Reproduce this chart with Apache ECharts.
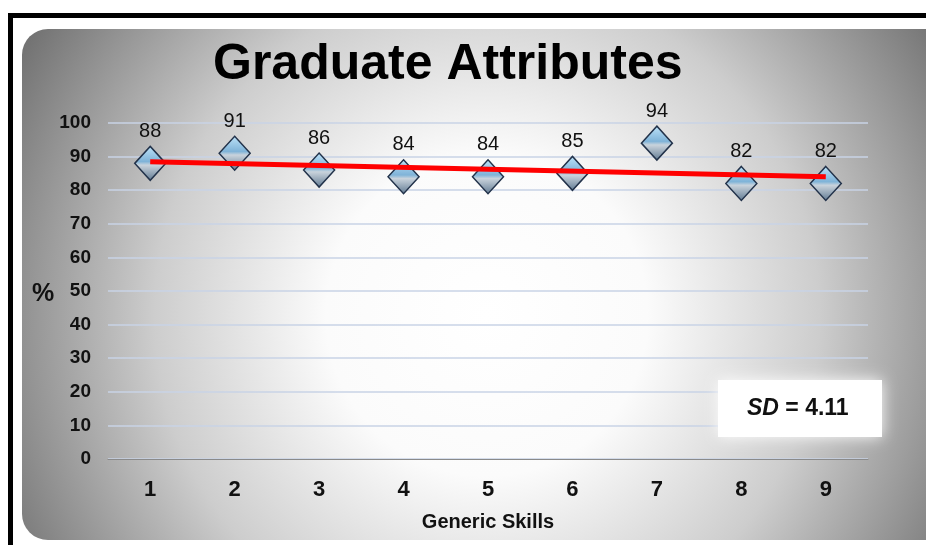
<!DOCTYPE html>
<html><head><meta charset="utf-8">
<script src="https://cdn.jsdelivr.net/npm/echarts@6/dist/echarts.min.js"></script>
<style>html,body{margin:0;padding:0;background:#fff}#c{width:926px;height:545px}</style>
</head><body><div id="c"></div>
<script>
var categories = ['1','2','3','4','5','6','7','8','9'];
var values = [88, 91, 86, 84, 84, 85, 94, 82, 82];
var trendCats = ['1','9'];
var trendValues = [88.5, 84.0];
var yTicks = [0,10,20,30,40,50,60,70,80,90,100];
var sdText = '4.11';

var FONT = '"Liberation Sans", Arial, sans-serif';
var chart = echarts.init(document.getElementById('c'), null, {renderer:'canvas'});
chart.setOption({
  backgroundColor: '#ffffff',
  animation: false,
  graphic: [
    {type:'rect', z:-10, shape:{x:22, y:29, width:930, height:511, r:26},
     style:{fill:{type:'radial', x:0.5, y:0.56, r:1.05, colorStops:[
       {offset:0, color:'#ffffff'},{offset:0.3, color:'#fbfbfb'},
       {offset:0.62, color:'#cdcdcd'},{offset:1, color:'#727272'}]}}},
    {type:'rect', z:-5, shape:{x:10.5, y:15.5, width:940, height:560},
     style:{fill:'none', stroke:'#000', lineWidth:5}},
    {type:'rect', z:5, shape:{x:718, y:380, width:164, height:57},
     style:{fill:'#ffffff', shadowBlur:14, shadowColor:'rgba(255,255,255,0.95)'}},
    {type:'text', z:6, left:747, top:397,
     style:{text:'{i|SD} = ' + sdText, font:'bold 23px ' + FONT, fill:'#111',
       rich:{i:{fontStyle:'italic', fontWeight:'bold', fontSize:23, fontFamily:FONT, fill:'#111'}}}},
    {type:'text', z:6, left:32, top:282,
     style:{text:'%', font:'bold 25px ' + FONT, fill:'#111'}}
  ],
  title: {text:'Graduate Attributes', left:208, top:35,
    textStyle:{fontFamily:FONT, fontSize:50, fontWeight:'bold', color:'#000'}},
  grid: {left:108, right:58, top:123, bottom:86},
  xAxis: {type:'category', data:categories, boundaryGap:true,
    name:'Generic Skills', nameLocation:'middle', nameGap:53,
    nameTextStyle:{fontFamily:FONT, fontSize:20, fontWeight:'bold', color:'#111'},
    axisLine:{lineStyle:{color:'#8a8a8a', width:1}}, axisTick:{show:false},
    axisLabel:{fontFamily:FONT, fontSize:22, fontWeight:'bold', color:'#111', margin:20}},
  yAxis: {type:'value', min:yTicks[0], max:yTicks[yTicks.length-1], interval:10,
    axisLine:{show:false}, axisTick:{show:false},
    splitLine:{lineStyle:{color:'#c9d3e6', width:1.5}},
    axisLabel:{fontFamily:FONT, fontSize:19, fontWeight:'bold', color:'#111', margin:17}},
  series: [
    {type:'line', data:values, z:3, lineStyle:{width:0}, symbol:'diamond', symbolSize:[31,34],
     itemStyle:{color:{type:'linear', x:0, y:0, x2:0, y2:1, colorStops:[
       {offset:0, color:'#bfe4fa'},{offset:0.45, color:'#7fb3d8'},{offset:0.55, color:'#c9d3dc'},{offset:1, color:'#5d7790'}]},
       borderColor:'#22324a', borderWidth:1.5},
     label:{show:true, position:'top', distance:4, fontFamily:FONT, fontSize:20, color:'#111'}},
    {type:'line', data:trendCats.map(function(c,i){return [c, trendValues[i]];}), z:5,
     symbol:'none', lineStyle:{color:'#ff0000', width:5}}
  ]
});
</script></body></html>
